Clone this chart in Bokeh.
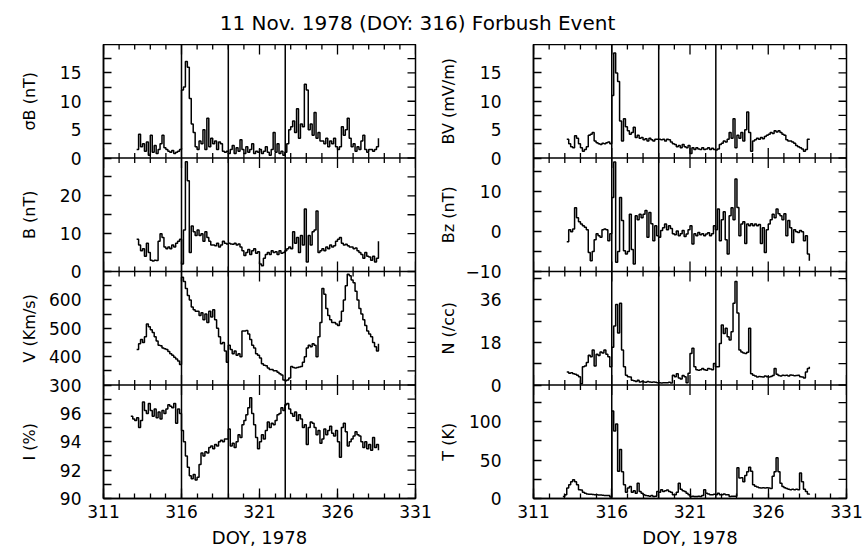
import math
import numpy as np
from bokeh.plotting import figure
from bokeh.models import Range1d, FixedTicker, Span, Label
from bokeh.layouts import column, row
from bokeh.embed import file_html
from bokeh.resources import INLINE

FONT = "DejaVu Sans"
STEP = 0.125  # sampling interval of the series (days)

title_text = "11 Nov. 1978 (DOY: 316) Forbush Event"
x_label = "DOY, 1978"
doy_major = [311, 316, 321, 326, 331]
doy_minor = list(range(311, 332))
event_days = [316.0, 319.0, 322.65]

# ---------------- series ----------------
start_main = 313.125
start_i = 312.75
start_t = 312.875

sigma_b = [1.5, 4.2, 2.0, 2.5, 1.2, 2.8, 0.5,
           4.0, 1.0, 2.2, 0.8, 1.5, 2.5, 4.0, 1.8,
           1.5, 1.2, 1.0, 1.3, 0.8, 1.0, 1.2, 1.5,
           12.0, 12.5, 17.0, 16.0, 10.5, 6.0, 4.5, 2.0,
           1.5, 3.0, 2.5, 5.0, 1.5, 7.0, 2.0, 3.5,
           2.5, 3.0, 1.5, 2.8, 2.5, 1.2, 1.0, 1.2,
           0.8, 1.5, 2.2, 0.8, 1.8, 1.2, 3.2, 1.5,
           0.8, 2.0, 1.0, 1.5, 2.5, 0.8, 1.2, 1.0,
           1.5, 0.8, 1.2, 2.0, 1.0, 0.5, 1.5, 4.5,
           1.0, 2.5, 0.8, 1.2, 0.5, 1.0, 2.5, 5.0,
           5.5, 6.5, 4.5, 8.7, 3.5, 6.0, 5.5, 13.0,
           12.0, 5.0, 6.0, 4.0, 8.0, 3.5, 4.5, 3.0,
           3.0, 2.5, 3.5, 2.0, 3.0, 2.5, 3.5, 2.0,
           1.5, 2.0, 5.5, 4.0, 5.0, 7.0, 3.5, 2.0,
           2.5, 1.2, 2.0, 1.5, 3.0, 4.0, 1.5, 1.0,
           1.5, 1.5, 1.2, 1.5, 2.0, 3.5]

b_mag = [8.5, 7.0, 5.5, 6.0, 4.0, 7.5, 5.0,
         3.0, 2.8, 3.0, 2.9, 8.0, 10.0, 9.0, 6.5,
         6.0, 6.5, 6.0, 7.0, 6.5, 7.5, 8.0, 8.5,
         2.0, 11.0, 29.0, 24.0, 5.0, 12.0, 10.5, 9.5,
         11.0, 9.5, 10.0, 8.0, 10.5, 9.0, 8.0, 7.0,
         7.0, 6.8, 7.5, 6.5, 7.0, 8.0, 7.5, 7.3,
         7.5, 7.3, 7.2, 7.5, 7.0, 7.3, 6.5, 5.5,
         4.2, 5.0, 5.8, 4.5, 5.5, 6.0, 4.8, 5.2,
         2.0, 1.5, 3.5, 4.5, 5.0, 4.5, 5.5, 5.0,
         5.2, 4.5, 5.5, 4.8, 5.0, 5.5, 6.0, 6.5,
         6.0, 10.5, 7.5, 9.0, 5.0, 9.5, 7.0, 16.5,
         2.5, 9.5, 7.0, 10.5, 11.0, 16.0, 5.0, 5.5,
         6.0, 5.5, 6.5, 6.0, 7.0, 6.5, 6.8, 8.0,
         8.5, 9.0, 7.5, 7.0, 7.2, 6.8, 6.5, 6.5,
         6.0, 6.2, 5.5, 5.0, 4.5, 3.5, 5.0, 4.0,
         3.8, 3.0, 4.0, 2.5, 3.5, 8.0]

v_sw = [425, 445, 460, 450, 470, 515, 505,
        495, 485, 470, 455, 440, 438, 430, 428,
        425, 418, 410, 405, 398, 392, 385, 372,
        680, 665, 640, 615, 600, 575, 565, 560,
        560, 545, 555, 530, 550, 520, 560, 540,
        565, 530, 500, 470, 445, 450, 420, 380,
        440, 425, 410, 420, 405, 410, 400, 490,
        490, 492, 480, 460, 440, 430, 410, 405,
        395, 375, 370, 368, 360, 355, 355, 350,
        350, 345, 340, 335, 318, 315, 318, 325,
        365, 362, 360, 362, 363, 365, 380, 400,
        430, 440, 435, 445, 440, 400, 470, 520,
        640, 620, 570, 545, 530, 520, 520, 515,
        510, 525, 560, 600, 650, 690, 685, 670,
        660, 630, 600, 570, 550, 530, 510, 490,
        480, 470, 450, 435, 420, 445]

i_cr = [95.8, 95.6,
        95.5, 95.7, 95.0, 95.5, 96.8, 96.2, 96.0, 96.7,
        96.2, 95.8, 96.3, 95.7, 96.1, 95.6, 96.2, 96.0,
        96.3, 96.6, 96.5, 96.4, 96.7, 95.3, 96.3, 96.0,
        94.8, 94.0, 93.0, 92.2, 91.6, 91.4, 91.7, 91.3,
        91.5, 92.4, 93.2, 93.0, 93.3, 93.2, 93.6, 93.7,
        93.5, 93.8, 93.7, 94.0, 94.1, 94.0, 94.2, 94.2,
        94.9, 93.7, 93.9, 93.6, 94.0, 94.5, 94.3, 95.2,
        95.5, 95.9, 96.4, 97.1, 96.0, 95.2, 94.3, 93.5,
        94.0, 94.5, 94.2, 94.8, 95.4, 95.0, 95.3, 95.2,
        95.5, 95.9, 96.0, 96.4, 96.2, 96.6, 96.7, 96.3,
        96.0, 95.8, 96.1, 95.5, 95.9, 95.6, 95.0, 95.2,
        93.8, 95.0, 95.4, 95.3, 95.0, 94.5, 94.8, 93.9,
        94.2, 94.9, 94.5, 94.8, 95.1, 94.6, 94.4, 94.8,
        94.0, 92.9, 95.0, 95.3, 94.7, 93.7, 94.0, 94.2,
        94.4, 94.7, 94.5, 94.4, 94.0, 93.6, 94.0, 93.5,
        93.8, 93.4, 94.3, 93.6, 93.8, 93.4]

bv = [3.3, 2.5, 2.0, 1.8, 3.9, 3.5, 2.5,
      1.8, 1.2, 1.5, 2.0, 4.0, 4.2, 4.5, 3.0,
      2.7, 2.5, 2.4, 2.6, 2.5, 2.7, 2.8, 2.5,
      11.0, 18.5, 15.0, 13.5, 6.5, 3.0, 6.9, 5.5,
      4.8, 4.2, 4.5, 5.4, 3.6, 4.0, 3.5, 3.6,
      3.2, 3.4, 3.0, 3.5, 3.2, 3.0, 3.3, 3.3,
      3.3, 3.2, 3.3, 3.0, 3.3, 3.2, 2.8, 2.5,
      2.4, 2.0, 2.2, 1.8, 2.4, 2.0, 1.8, 2.2,
      0.8, 1.8, 1.5, 1.8, 1.6, 1.5, 1.8, 1.5,
      1.6, 1.8, 1.5, 1.7, 1.5, 1.4, 1.6, 2.4,
      2.6, 3.0, 2.8, 3.3, 4.5, 3.5, 6.9, 1.8,
      4.0, 3.5, 4.5, 3.0, 5.0, 8.1, 4.5, 1.2,
      3.0, 3.2, 3.5, 3.3, 3.6, 3.4, 3.8, 4.0,
      4.2, 4.5, 4.3, 4.8, 4.6, 4.8, 4.5, 4.2,
      4.0, 3.2, 3.0, 3.0, 2.8, 2.6, 2.2, 2.0,
      1.8, 1.6, 1.2, 1.5, 3.3, 3.4]

bz = [-2.5, 0.5, 0.0, 0.7, 6.0, 3.5, 2.5,
      1.9, 1.5, 1.1, 0.5, -5.2, -7.3, -5.0, -2.0,
      -0.5, -1.0, -1.4, 0.5, 0.7, 0.5, -2.3, -0.5,
      8.6, 17.5, -7.7, -5.0, 8.6, 2.8, -4.8, -5.6,
      -5.0, 4.4, -4.5, -8.1, 4.0, 3.0, 4.4, 3.5,
      4.4, 5.3, -1.4, 4.8, 2.0, -2.3, 1.5, -1.0,
      -1.4, 0.3, 1.0, 1.9, 0.5, 1.5, 0.8, -0.5,
      -0.8, 0.2, -1.0, -0.5, 0.3, -1.2, -0.6, 0.5,
      1.5, -3.1, -0.5, -1.0, -0.2, -0.8, -0.5, -1.0,
      -0.6, -0.3, -1.0, -0.5, 1.5, 0.5, 5.7, -2.3,
      3.0, 5.0, -2.0, -5.6, 4.0, 6.0, 3.0, 13.2,
      6.1, -1.0, 1.9, 2.5, -3.0, 1.9, 1.5, 2.0,
      1.5, 1.9, 1.5, 1.8, -3.0, 1.0, -5.2, 0.5,
      1.9, 3.0, 4.4, 3.5, 5.7, 4.5, 4.0, 3.0,
      4.5, -1.0, 2.8, 1.0, -2.7, 0.5, 0.0, -0.2,
      0.3, 0.0, -2.3, -1.0, -5.6, -7.3]

n_p = [5.5, 5.0, 5.2, 4.8, 4.5, 4.1, 3.5,
       0.5, 7.7, 8.0, 9.5, 12.6, 12.0, 14.8, 8.0,
       13.0, 12.5, 14.0, 13.5, 14.8, 13.0, 12.0, 7.7,
       16.0, 25.0, 34.0, 22.0, 34.6, 14.8, 7.7, 4.1,
       3.5, 3.4, 2.0, 1.8, 1.5, 2.0, 1.3, 1.5,
       1.3, 1.2, 1.5, 1.3, 1.2, 1.3, 1.2, 1.0,
       1.0, 0.8, 1.0, 0.9, 1.0, 1.2, 0.8, 4.1,
       3.5, 4.8, 3.0, 2.5, 4.0, 3.5, 1.0, 5.0,
       13.3, 15.5, 7.7, 6.5, 6.2, 6.5, 7.0, 6.5,
       6.2, 7.0, 6.8, 6.5, 9.1, 7.7, 7.7, 17.6,
       25.4, 21.8, 24.0, 20.4, 19.0, 22.5, 34.6, 43.8,
       30.4, 14.8, 14.0, 13.5, 13.3, 13.8, 24.0, 4.8,
       4.1, 3.8, 3.4, 3.6, 3.5, 3.4, 3.8, 3.5,
       3.4, 3.6, 4.0, 7.0, 4.5, 4.0, 3.8, 4.1,
       4.0, 4.1, 3.8, 4.2, 4.1, 3.9, 4.0, 4.1,
       3.5, 3.4, 3.0, 5.5, 7.0, 7.7]

t_p = [2.5,
       5.0, 13.6, 18.0, 22.0, 24.6, 22.0, 18.0, 11.4,
       11.0, 8.0, 7.0, 6.0, 5.7, 5.5, 5.2, 5.0,
       4.8, 4.5, 4.5, 4.2, 4.0, 4.0, 3.9, 2.0,
       114.0, 88.0, 97.0, 35.5, 64.0, 35.0, 18.0, 8.0,
       13.6, 15.8, 8.0, 10.0, 7.0, 20.0, 9.0, 7.0,
       4.8, 4.0, 3.5, 3.0, 4.0, 2.6, 3.0, 9.2,
       8.0, 11.4, 9.2, 10.0, 11.0, 9.2, 8.0, 5.0,
       4.8, 8.0, 20.0, 12.0, 10.0, 9.0, 7.0, 5.0,
       2.6, 2.8, 2.5, 2.6, 3.0, 2.6, 4.0, 11.4,
       7.0, 6.0, 5.0, 4.8, 5.5, 4.8, 7.0, 5.0,
       4.8, 6.0, 5.0, 4.8, 2.6, 3.0, 2.8, 3.0,
       40.0, 26.8, 27.0, 22.0, 30.0, 35.0, 40.8, 35.5,
       18.0, 16.0, 15.0, 14.0, 13.6, 14.0, 13.6, 14.0,
       13.6, 13.0, 29.0, 35.0, 53.0, 35.0, 20.0, 15.8,
       14.0, 13.0, 12.0, 11.4, 12.0, 11.5, 12.0, 11.4,
       33.3, 22.0, 12.0, 9.2, 6.0, 4.8]

# ---------------- panel axes ----------------
sigma_label, sigma_range = "σB (nT)", (0, 20)
sigma_ticks, sigma_tick_labels = [0, 5, 10, 15], ["0", "5", "10", "15"]
sigma_minor = [2.5, 7.5, 12.5, 17.5]

b_label, b_range = "B (nT)", (0, 30)
b_ticks, b_tick_labels = [0, 10, 20], ["0", "10", "20"]
b_minor = [5, 15, 25]

v_label, v_range = "V (Km/s)", (300, 700)
v_ticks, v_tick_labels = [300, 400, 500, 600], ["300", "400", "500", "600"]
v_minor = [350, 450, 550, 650]

i_label, i_range = "I (%)", (90, 98)
i_ticks, i_tick_labels = [90, 92, 94, 96], ["90", "92", "94", "96"]
i_minor = [91, 93, 95, 97]

bv_label, bv_range = "BV (mV/m)", (0, 20)
bv_ticks, bv_tick_labels = [0, 5, 10, 15], ["0", "5", "10", "15"]
bv_minor = [2.5, 7.5, 12.5, 17.5]

bz_label, bz_range = "Bz (nT)", (-10, 18.5)
bz_ticks, bz_tick_labels = [-10, 0, 10], ["\u221210", "0", "10"]
bz_minor = [-5, 5, 15]

n_label, n_range = "N (/cc)", (0, 48)
n_ticks, n_tick_labels = [0, 18, 36], ["0", "18", "36"]
n_minor = [9, 27, 45]

t_label, t_range = "T (K)", (0, 148)
t_ticks, t_tick_labels = [0, 50, 100], ["0", "50", "100"]
t_minor = [25, 75, 125]

left_panels = [
    ("sigma", sigma_label, sigma_range, sigma_ticks, sigma_tick_labels, sigma_minor, start_main, sigma_b),
    ("bmag", b_label, b_range, b_ticks, b_tick_labels, b_minor, start_main, b_mag),
    ("vsw", v_label, v_range, v_ticks, v_tick_labels, v_minor, start_main, v_sw),
    ("icr", i_label, i_range, i_ticks, i_tick_labels, i_minor, start_i, i_cr),
]
right_panels = [
    ("bv", bv_label, bv_range, bv_ticks, bv_tick_labels, bv_minor, start_main, bv),
    ("bz", bz_label, bz_range, bz_ticks, bz_tick_labels, bz_minor, start_main, bz),
    ("np", n_label, n_range, n_ticks, n_tick_labels, n_minor, start_main, n_p),
    ("tp", t_label, t_range, t_ticks, t_tick_labels, t_minor, start_t, t_p),
]

FRAME_H = 454
TOP_B = 0
BOT_B = 56
TITLE_H = 44


def build_label_strip(panels, strip_w, label_center):
    """Narrow figure holding the rotated unit labels of a column of panels."""
    npan = len(panels)
    s = figure(width=strip_w, height=TOP_B + FRAME_H + BOT_B,
               frame_width=strip_w, frame_height=FRAME_H,
               x_range=Range1d(0, strip_w), y_range=Range1d(0, npan),
               x_axis_location=None, y_axis_location=None,
               min_border_left=0, min_border_right=0,
               min_border_top=TOP_B, min_border_bottom=BOT_B,
               output_backend="svg", toolbar_location=None,
               outline_line_color=None, background_fill_color="white", border_fill_color="white")
    s.grid.visible = False
    for idx, pan in enumerate(panels):
        k = npan - 1 - idx
        s.add_layout(Label(x=label_center, y=k + 0.5, x_units="data", y_units="data",
                           text=pan[1], angle=90, angle_units="deg",
                           text_align="center", text_baseline="middle",
                           text_font=FONT, text_font_size="16px", text_color="black"))
    return s


def build_column(panels, frame_w, border_left, border_right, tick_standoff):
    npan = len(panels)
    x0, x1 = doy_major[0], doy_major[-1]
    p = figure(width=border_left + frame_w + border_right, height=TOP_B + FRAME_H + BOT_B,
               frame_width=frame_w, frame_height=FRAME_H,
               x_range=Range1d(x0, x1), y_range=Range1d(0, npan),
               min_border_left=border_left, min_border_right=border_right,
               min_border_top=TOP_B, min_border_bottom=BOT_B,
               output_backend="svg", toolbar_location=None,
               background_fill_color="white", border_fill_color="white",
               outline_line_color="black", outline_line_width=1.5)
    p.grid.visible = False

    extra = {}
    major_pos, minor_pos, overrides = [], [], {}
    for idx, (name, label, (lo, hi), ticks, tlabels, minor, t0, vals) in enumerate(panels):
        k = npan - 1 - idx
        span = hi - lo
        extra[name] = Range1d(lo - k * span, hi + (npan - 1 - k) * span)
        for v, s in zip(ticks, tlabels):
            pos = round(k + (v - lo) / span, 6)
            major_pos.append(pos)
            overrides[pos] = s
        for v in minor:
            minor_pos.append(round(k + (v - lo) / span, 6))
    p.extra_y_ranges = extra

    for idx, (name, label, (lo, hi), ticks, tlabels, minor, t0, vals) in enumerate(panels):
        xs = t0 + STEP * np.arange(len(vals))
        p.step(xs, vals, mode="after", y_range_name=name, line_color="black", line_width=1.5)

    # panel dividers and event lines
    for k in range(1, npan):
        p.add_layout(Span(location=k, dimension="width", line_color="black", line_width=1.5))
    for d in event_days:
        p.add_layout(Span(location=d, dimension="height", line_color="black", line_width=1.5))

    # inward ticks on the panel boundaries, the top edge and the right edge
    tx, ty, ts, ta = [], [], [], []
    for k in range(1, npan + 1):
        for d in doy_minor:
            tx.append(d); ty.append(k)
            ts.append(20 if d in doy_major else 10); ta.append(math.pi / 2)
    for pos in major_pos + minor_pos:
        tx.append(x1); ty.append(pos); ts.append(16); ta.append(0.0)
    p.scatter(tx, ty, marker="dash", size=ts, angle=ta, line_color="black", line_width=1.3)

    xa = p.xaxis[0]
    xa.ticker = FixedTicker(ticks=doy_major, minor_ticks=doy_minor)
    xa.major_tick_in, xa.major_tick_out = 10, 0
    xa.minor_tick_in, xa.minor_tick_out = 5, 0
    xa.major_tick_line_width = 1.3
    xa.minor_tick_line_width = 1.3
    xa.axis_line_width = 1.5
    xa.major_label_text_font = FONT
    xa.major_label_text_font_size = "17px"
    xa.major_label_text_color = "black"
    xa.major_label_standoff = 6
    xa.axis_label = x_label
    xa.axis_label_text_font = FONT
    xa.axis_label_text_font_size = "18px"
    xa.axis_label_text_font_style = "normal"
    xa.axis_label_text_color = "black"
    xa.axis_label_standoff = 6

    ya = p.yaxis[0]
    ya.ticker = FixedTicker(ticks=major_pos, minor_ticks=minor_pos)
    ya.major_label_overrides = overrides
    ya.major_tick_in, ya.major_tick_out = 8, 0
    ya.minor_tick_in, ya.minor_tick_out = 8, 0
    ya.major_tick_line_width = 1.3
    ya.minor_tick_line_width = 1.3
    ya.axis_line_width = 1.5
    ya.major_label_text_font = FONT
    ya.major_label_text_font_size = "17px"
    ya.major_label_text_color = "black"
    ya.major_label_standoff = tick_standoff
    return p


left_strip = build_label_strip(left_panels, 45, 29)
left = build_column(left_panels, 312, 58, 20, 22)
right_strip = build_label_strip(right_panels, 23, 13)
right = build_column(right_panels, 313, 75, 17, 32)

title_fig = figure(width=863, height=TITLE_H, x_range=Range1d(0, 863), y_range=Range1d(0, TITLE_H),
                   x_axis_location=None, y_axis_location=None,
                   output_backend="svg", toolbar_location=None,
                   min_border=0, outline_line_color=None)
title_fig.grid.visible = False
title_fig.add_layout(Label(x=417, y=TITLE_H - 22, x_units="data", y_units="data", text=title_text,
                           text_align="center", text_baseline="middle",
                           text_font=FONT, text_font_size="20px", text_color="black"))

layout = column(title_fig, row(left_strip, left, right_strip, right))
open("out.html", "w").write(file_html(layout, INLINE))
